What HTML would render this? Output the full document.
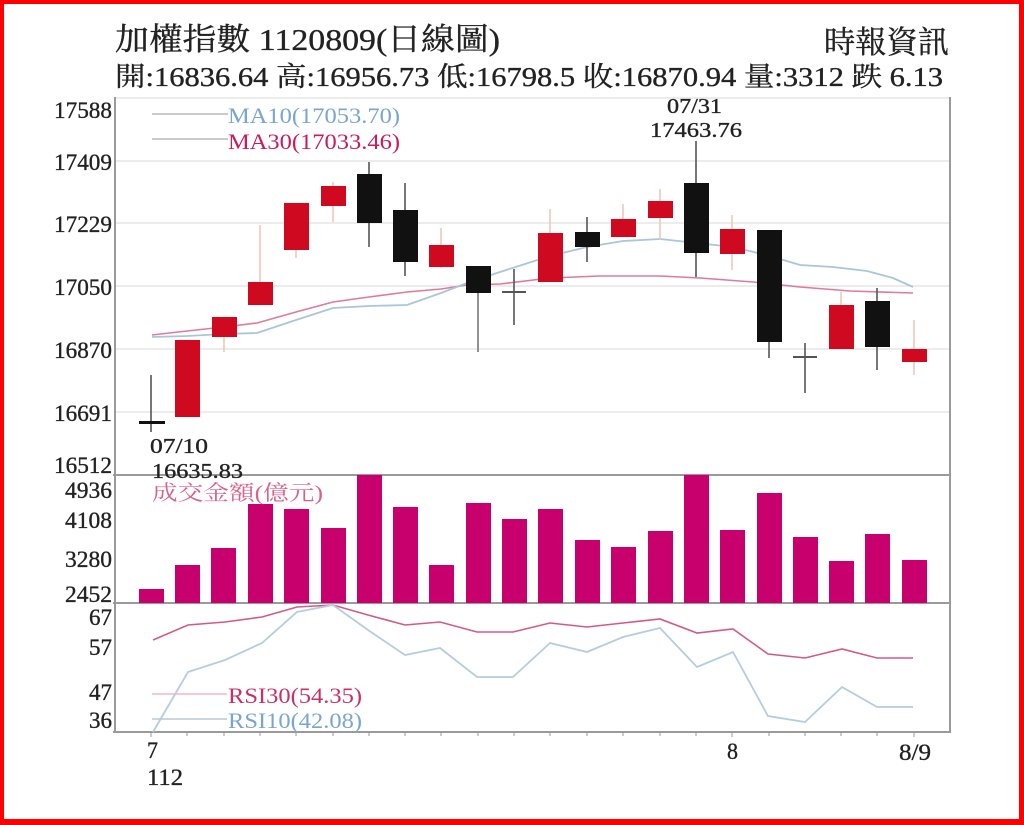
<!DOCTYPE html>
<html>
<head>
<meta charset="utf-8">
<style>
html,body{margin:0;padding:0;background:#fff;}
body{width:1024px;height:825px;overflow:hidden;}
svg{display:block;}
text{font-family:"Liberation Serif","Noto Serif CJK SC","Noto Sans CJK TC",serif;}
.dk{stroke:#222;stroke-width:0.35;}
</style>
</head>
<body>
<svg width="1024" height="825" viewBox="0 0 1024 825" xmlns="http://www.w3.org/2000/svg">
<rect x="0" y="0" width="1024" height="825" fill="#ff0000"/>
<rect x="4" y="4" width="1015" height="815" fill="#ffffff"/>

<!-- Title -->
<text class="dk" x="115" y="50" font-size="31" fill="#222" textLength="385" lengthAdjust="spacingAndGlyphs">加權指數 1120809(日線圖)</text>
<text class="dk" x="824" y="53" font-size="31" fill="#222" textLength="125" lengthAdjust="spacingAndGlyphs">時報資訊</text>
<text class="dk" x="115" y="86" font-size="27" fill="#222" textLength="828" lengthAdjust="spacingAndGlyphs">開:16836.64 高:16956.73 低:16798.5 收:16870.94 量:3312 跌 6.13</text>

<!-- grid lines -->
<g stroke="#e6e6e6" stroke-width="1.5">
<line x1="116" y1="98" x2="950" y2="98"/>
<line x1="116" y1="161" x2="950" y2="161"/>
<line x1="116" y1="223" x2="950" y2="223"/>
<line x1="116" y1="286" x2="950" y2="286"/>
<line x1="116" y1="349" x2="950" y2="349"/>
<line x1="116" y1="412" x2="950" y2="412"/>
</g>

<!-- frame -->
<g stroke="#9a9a9a" stroke-width="2" fill="none">
<line x1="115" y1="97" x2="115" y2="733"/>
<line x1="950" y1="97" x2="950" y2="733"/>
<line x1="113" y1="475" x2="951" y2="475"/>
<line x1="113" y1="603" x2="951" y2="603"/>
<line x1="113" y1="732" x2="951" y2="732"/>
</g>
<!-- x ticks -->
<g stroke="#9a9a9a" stroke-width="1">
<line x1="151" y1="732" x2="151" y2="737"/><line x1="187" y1="732" x2="187" y2="736"/><line x1="224" y1="732" x2="224" y2="736"/><line x1="260" y1="732" x2="260" y2="736"/><line x1="296" y1="732" x2="296" y2="736"/><line x1="333" y1="732" x2="333" y2="736"/><line x1="369" y1="732" x2="369" y2="736"/><line x1="405" y1="732" x2="405" y2="736"/><line x1="441" y1="732" x2="441" y2="736"/><line x1="478" y1="732" x2="478" y2="736"/><line x1="514" y1="732" x2="514" y2="736"/><line x1="550" y1="732" x2="550" y2="736"/><line x1="587" y1="732" x2="587" y2="736"/><line x1="623" y1="732" x2="623" y2="736"/><line x1="660" y1="732" x2="660" y2="736"/><line x1="696" y1="732" x2="696" y2="736"/><line x1="732" y1="732" x2="732" y2="737"/><line x1="769" y1="732" x2="769" y2="736"/><line x1="805" y1="732" x2="805" y2="736"/><line x1="841" y1="732" x2="841" y2="736"/><line x1="877" y1="732" x2="877" y2="736"/><line x1="914" y1="732" x2="914" y2="737"/>
</g>

<!-- y labels -->
<g font-size="23" fill="#222" text-anchor="end" class="dk">
<text x="112" y="118" textLength="58" lengthAdjust="spacingAndGlyphs">17588</text>
<text x="112" y="170" textLength="58" lengthAdjust="spacingAndGlyphs">17409</text>
<text x="112" y="232" textLength="58" lengthAdjust="spacingAndGlyphs">17229</text>
<text x="112" y="295" textLength="58" lengthAdjust="spacingAndGlyphs">17050</text>
<text x="112" y="358" textLength="58" lengthAdjust="spacingAndGlyphs">16870</text>
<text x="112" y="421" textLength="58" lengthAdjust="spacingAndGlyphs">16691</text>
<text x="112" y="473" textLength="58" lengthAdjust="spacingAndGlyphs">16512</text>
<text x="112" y="498" textLength="47" lengthAdjust="spacingAndGlyphs">4936</text>
<text x="112" y="528" textLength="47" lengthAdjust="spacingAndGlyphs">4108</text>
<text x="112" y="567" textLength="47" lengthAdjust="spacingAndGlyphs">3280</text>
<text x="112" y="602" textLength="47" lengthAdjust="spacingAndGlyphs">2452</text>
<text x="112" y="625" textLength="23" lengthAdjust="spacingAndGlyphs">67</text>
<text x="112" y="655" textLength="23" lengthAdjust="spacingAndGlyphs">57</text>
<text x="112" y="700" textLength="23" lengthAdjust="spacingAndGlyphs">47</text>
<text x="112" y="728" textLength="23" lengthAdjust="spacingAndGlyphs">36</text>
</g>

<!-- x labels -->
<g font-size="23" fill="#222" class="dk">
<text x="147" y="758" textLength="11" lengthAdjust="spacingAndGlyphs">7</text>
<text x="147" y="785" textLength="36" lengthAdjust="spacingAndGlyphs">112</text>
<text x="727" y="759" textLength="11" lengthAdjust="spacingAndGlyphs">8</text>
<text x="899" y="760" textLength="32" lengthAdjust="spacingAndGlyphs">8/9</text>
</g>

<!-- MA lines -->
<polyline fill="none" stroke="#e07a9a" stroke-width="1.6" points="152,335 187,331 224,327 257,323 296,312 333,302 369,297 407,292 441,289 467,285 500,284 550,278 600,276 660,276 700,278 753,282 800,287 850,291 913,293"/>
<polyline fill="none" stroke="#a9c6dc" stroke-width="1.8" points="152,337 187,336 224,334 257,333 296,320 333,308 369,306 407,305 441,293 467,283 500,272 550,256 587,247 623,241 660,239 697,243 733,247 770,256 800,265 833,267 867,271 893,278 913,287"/>

<!-- legend MA -->
<line x1="152" y1="114" x2="228" y2="114" stroke="#b8b8b8" stroke-width="1.5"/>
<line x1="152" y1="139" x2="228" y2="139" stroke="#b8b8b8" stroke-width="1.5"/>
<text x="228" y="123" font-size="22" fill="#78a6cf" textLength="172" lengthAdjust="spacingAndGlyphs">MA10(17053.70)</text>
<text x="228" y="149" font-size="22" fill="#c81c5c" textLength="172" lengthAdjust="spacingAndGlyphs">MA30(17033.46)</text>

<!-- candle wicks -->
<g stroke-width="1.6">
<line x1="151" y1="375" x2="151" y2="432" stroke="#555"/>
<line x1="224" y1="337" x2="224" y2="352" stroke="#f0c8b8"/>
<line x1="260" y1="225" x2="260" y2="282" stroke="#f0c8b8"/>
<line x1="296" y1="250" x2="296" y2="258" stroke="#f0c8b8"/>
<line x1="333" y1="182" x2="333" y2="222" stroke="#f0c8b8"/>
<line x1="369" y1="162" x2="369" y2="247" stroke="#555"/>
<line x1="405" y1="183" x2="405" y2="276" stroke="#555"/>
<line x1="441" y1="228" x2="441" y2="268" stroke="#f0c8b8"/>
<line x1="478" y1="266" x2="478" y2="352" stroke="#777"/>
<line x1="514" y1="269" x2="514" y2="325" stroke="#555"/>
<line x1="550" y1="209" x2="550" y2="282" stroke="#f0c8b8"/>
<line x1="587" y1="217" x2="587" y2="262" stroke="#555"/>
<line x1="623" y1="204" x2="623" y2="237" stroke="#f0c8b8"/>
<line x1="660" y1="189" x2="660" y2="240" stroke="#f0c8b8"/>
<line x1="696" y1="141" x2="696" y2="277" stroke="#555"/>
<line x1="732" y1="215" x2="732" y2="270" stroke="#f0c8b8"/>
<line x1="769" y1="230" x2="769" y2="358" stroke="#555"/>
<line x1="805" y1="343" x2="805" y2="393" stroke="#555"/>
<line x1="841" y1="292" x2="841" y2="349" stroke="#f0c8b8"/>
<line x1="877" y1="288" x2="877" y2="370" stroke="#555"/>
<line x1="914" y1="320" x2="914" y2="375" stroke="#f0c8b8"/>
</g>
<!-- candle bodies -->
<g>
<rect x="139" y="421" width="26" height="3" fill="#111"/>
<rect x="175" y="340" width="25" height="77" fill="#cf0a20"/>
<rect x="212" y="317" width="25" height="20" fill="#cf0a20"/>
<rect x="248" y="282" width="25" height="23" fill="#cf0a20"/>
<rect x="284" y="203" width="25" height="47" fill="#cf0a20"/>
<rect x="321" y="186" width="25" height="20" fill="#cf0a20"/>
<rect x="357" y="174" width="25" height="49" fill="#111"/>
<rect x="393" y="210" width="25" height="52" fill="#111"/>
<rect x="429" y="245" width="25" height="22" fill="#cf0a20"/>
<rect x="466" y="266" width="25" height="27" fill="#111"/>
<rect x="502" y="291" width="24" height="2" fill="#555"/>
<rect x="538" y="233" width="25" height="49" fill="#cf0a20"/>
<rect x="575" y="232" width="25" height="15" fill="#111"/>
<rect x="611" y="219" width="25" height="18" fill="#cf0a20"/>
<rect x="648" y="201" width="25" height="17" fill="#cf0a20"/>
<rect x="684" y="183" width="25" height="70" fill="#111"/>
<rect x="720" y="229" width="25" height="25" fill="#cf0a20"/>
<rect x="757" y="230" width="25" height="112" fill="#111"/>
<rect x="793" y="356" width="24" height="2" fill="#555"/>
<rect x="829" y="305" width="25" height="44" fill="#cf0a20"/>
<rect x="865" y="301" width="25" height="46" fill="#111"/>
<rect x="902" y="349" width="25" height="13" fill="#cf0a20"/>
</g>

<!-- annotations -->
<g class="dk">
<text x="667" y="113" font-size="21" fill="#222" textLength="55" lengthAdjust="spacingAndGlyphs">07/31</text>
<text x="650" y="137" font-size="21" fill="#222" textLength="92" lengthAdjust="spacingAndGlyphs">17463.76</text>
<text x="150" y="453" font-size="21" fill="#222" textLength="58" lengthAdjust="spacingAndGlyphs">07/10</text>
<text x="152" y="478" font-size="21" fill="#222" textLength="91" lengthAdjust="spacingAndGlyphs">16635.83</text>
</g>

<!-- volume bars -->
<g fill="#c8006e">
<rect x="139" y="589" width="25" height="14"/>
<rect x="175" y="565" width="25" height="38"/>
<rect x="211" y="548" width="25" height="55"/>
<rect x="248" y="504" width="25" height="99"/>
<rect x="284" y="509" width="25" height="94"/>
<rect x="321" y="528" width="25" height="75"/>
<rect x="357" y="475" width="25" height="128"/>
<rect x="393" y="507" width="25" height="96"/>
<rect x="429" y="565" width="25" height="38"/>
<rect x="466" y="503" width="25" height="100"/>
<rect x="502" y="519" width="25" height="84"/>
<rect x="538" y="509" width="25" height="94"/>
<rect x="575" y="540" width="25" height="63"/>
<rect x="611" y="547" width="25" height="56"/>
<rect x="648" y="531" width="25" height="72"/>
<rect x="684" y="475" width="25" height="128"/>
<rect x="720" y="530" width="25" height="73"/>
<rect x="757" y="493" width="25" height="110"/>
<rect x="793" y="537" width="25" height="66"/>
<rect x="829" y="561" width="25" height="42"/>
<rect x="865" y="534" width="25" height="69"/>
<rect x="902" y="560" width="25" height="43"/>
</g>
<text x="152" y="500" font-size="21" fill="#d8608a" textLength="171" lengthAdjust="spacingAndGlyphs">成交金額(億元)</text>

<!-- RSI lines -->
<polyline fill="none" stroke="#d45a86" stroke-width="1.6" points="153,640 188,625 225,622 262,617 297,607 333,605 368,615 405,625 440,622 477,632 513,632 550,623 587,627 623,623 660,619 697,633 733,629 768,654 805,658 842,649 877,658 913,658"/>
<polyline fill="none" stroke="#b4cde0" stroke-width="1.8" points="153,732 188,672 225,660 262,643 297,612 333,605 368,630 405,655 440,648 477,677 513,677 550,643 587,652 623,637 660,628 697,667 733,652 768,716 805,722 842,687 877,707 913,707"/>

<!-- RSI legend -->
<line x1="152" y1="694" x2="227" y2="694" stroke="#f0b8c8" stroke-width="1.5"/>
<line x1="152" y1="719" x2="227" y2="719" stroke="#b8c8d8" stroke-width="1.5"/>
<text x="228" y="703" font-size="22" fill="#c8306a" textLength="134" lengthAdjust="spacingAndGlyphs">RSI30(54.35)</text>
<text x="228" y="728" font-size="22" fill="#78a6cf" textLength="134" lengthAdjust="spacingAndGlyphs">RSI10(42.08)</text>
</svg>
</body>
</html>
